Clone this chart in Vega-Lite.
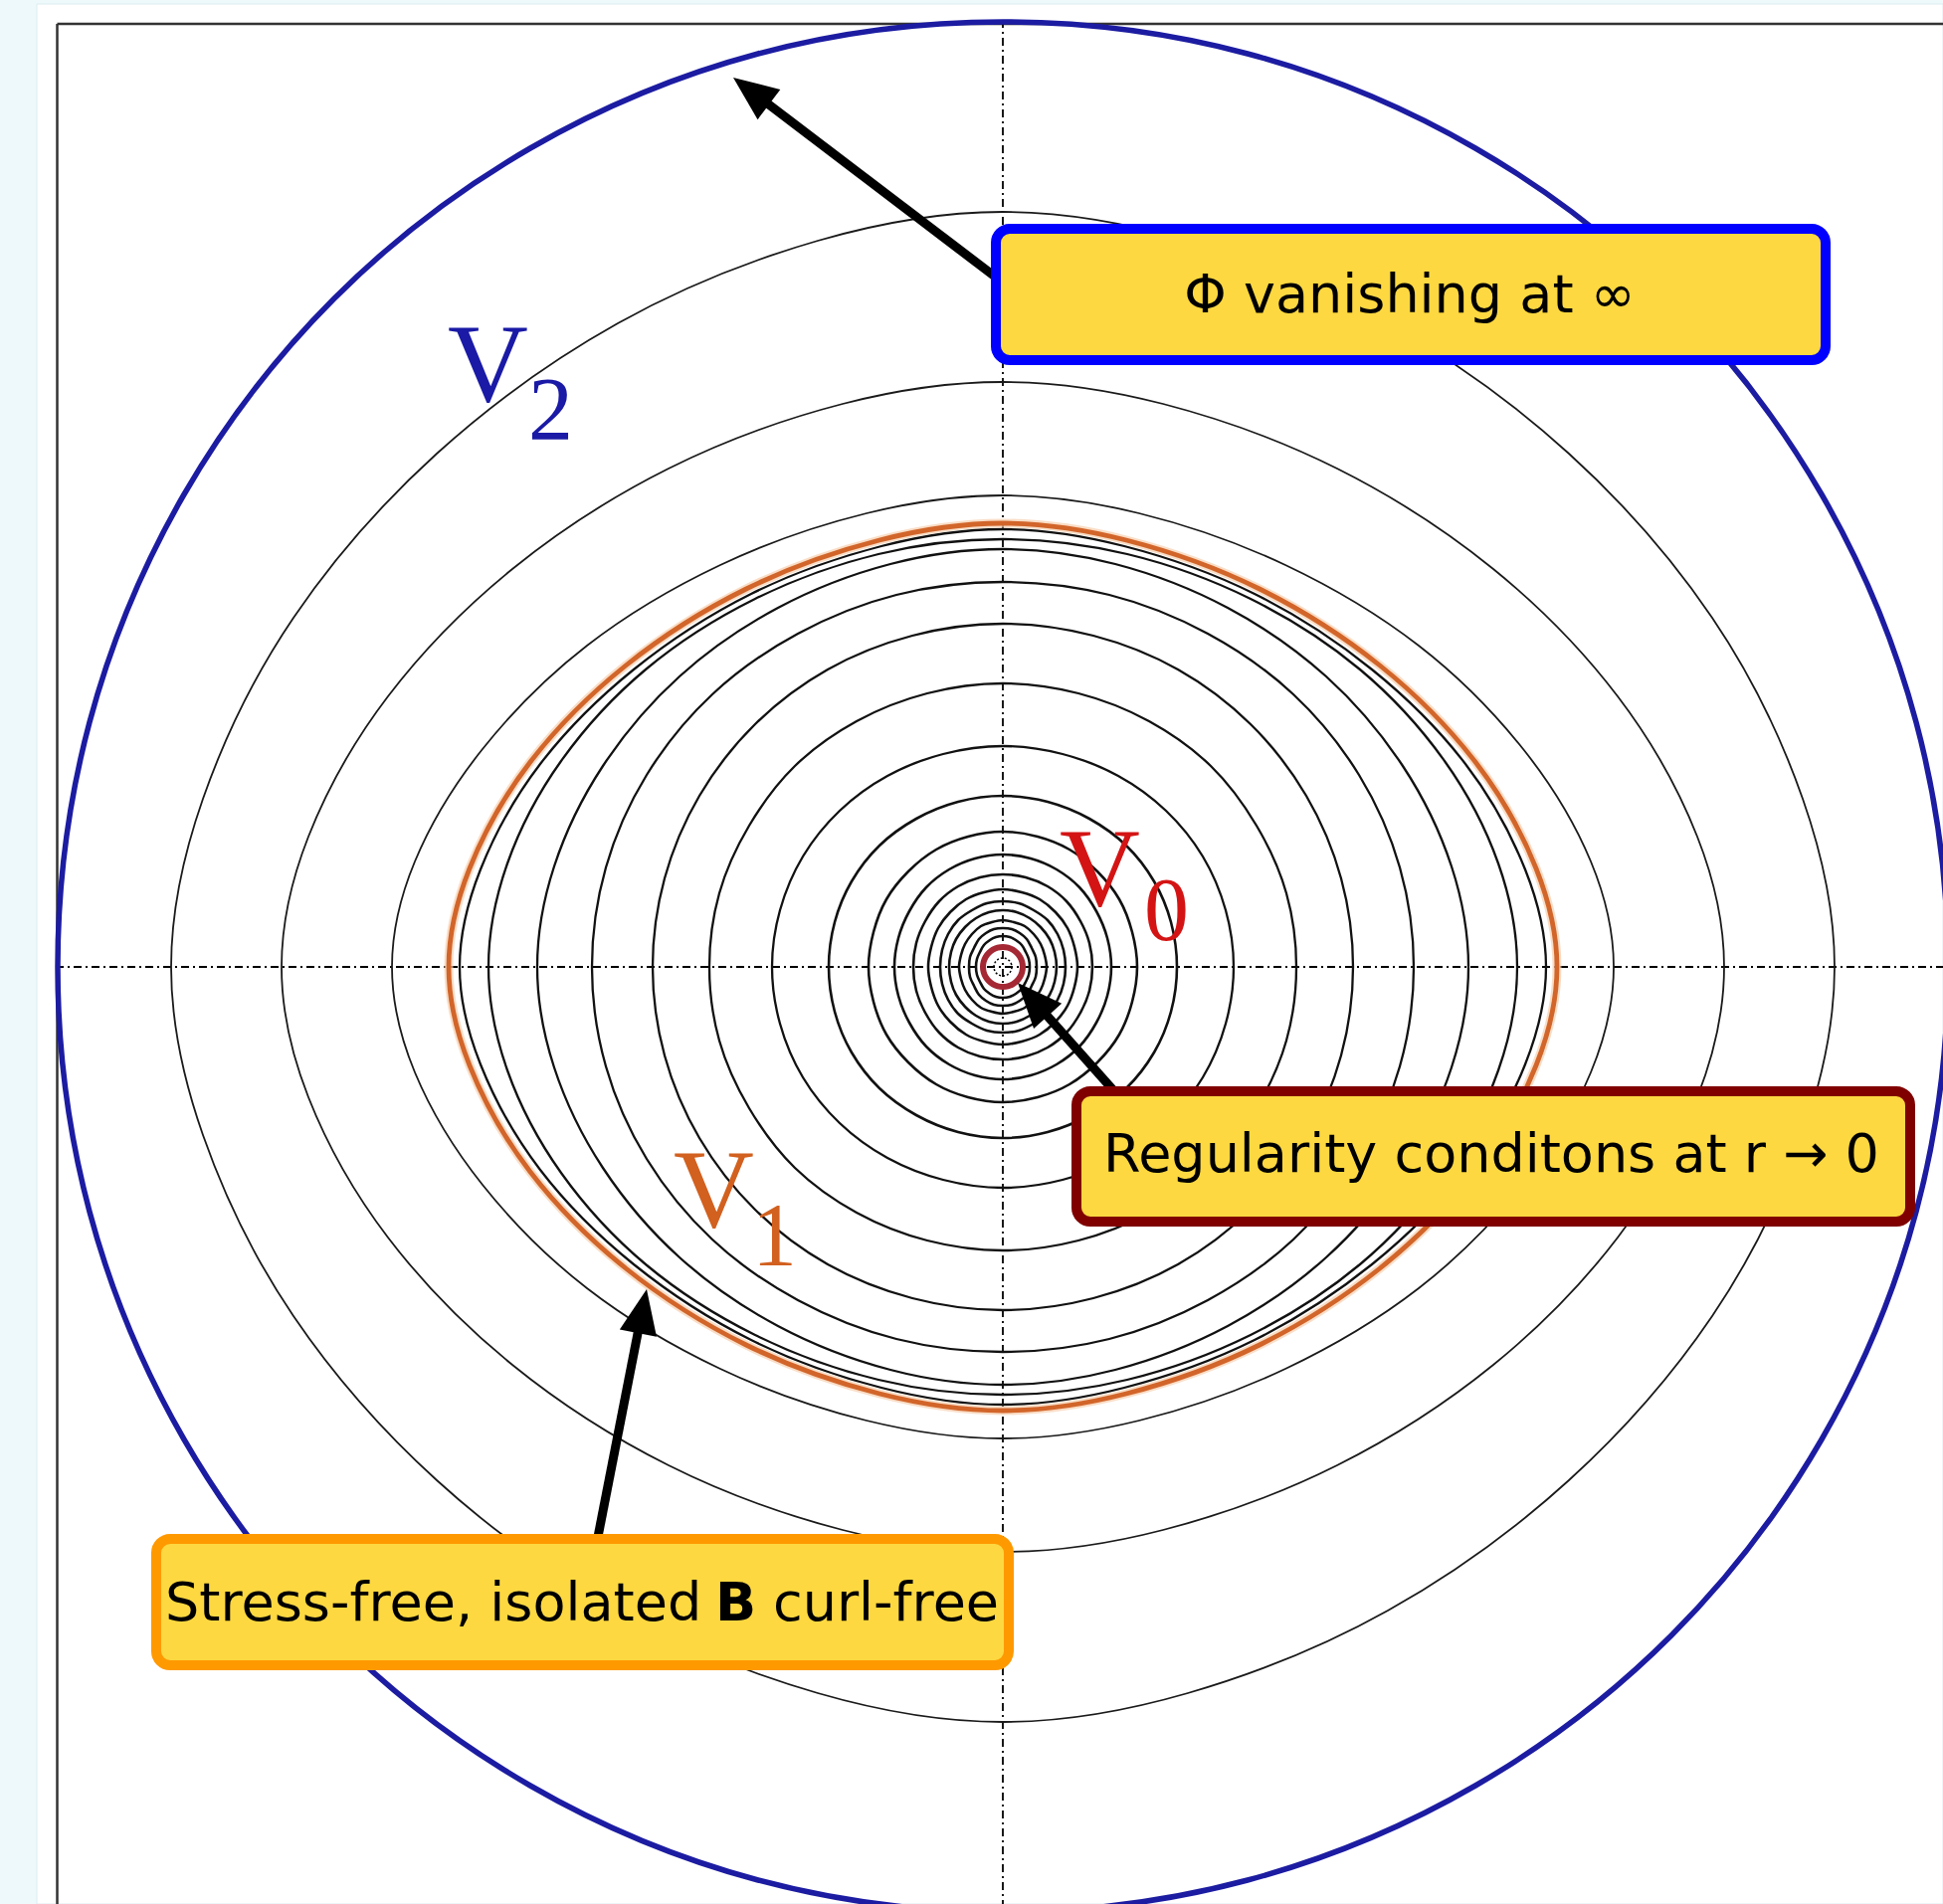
{
"$schema":"https://vega.github.io/schema/vega-lite/v6.json",
"width":1953,"height":1914,"autosize":{"type":"none"},"padding":0,
"background":"#eef9fc",
"config":{"view":{"stroke":null}},
"datasets":{
"panel":[{"x":-971,"x2":945,"y":968,"y2":-942}],
"frame":[{"x":-950.5,"y":948,"x2":-950.5,"y2":-942},{"x":-950.5,"y":948,"x2":945,"y2":948}],
"axes":[{"x":-952,"y":0,"x2":945,"y2":0},{"x":0,"y":952,"x2":0,"y2":-942}],
"pts":[
{"c":1,"i":0,"x":836,"y":0},{"c":1,"i":1,"x":804,"y":169},{"c":1,"i":2,"x":713,"y":351},{"c":1,"i":3,"x":569,"y":516},{"c":1,"i":4,"x":387,"y":647},{"c":1,"i":5,"x":186,"y":730},{"c":1,"i":6,"x":0,"y":759},{"c":1,"i":7,"x":-186,"y":730},{"c":1,"i":8,"x":-387,"y":647},{"c":1,"i":9,"x":-569,"y":516},{"c":1,"i":10,"x":-713,"y":351},{"c":1,"i":11,"x":-804,"y":169},{"c":1,"i":12,"x":-836,"y":0},{"c":1,"i":13,"x":-804,"y":-169},{"c":1,"i":14,"x":-713,"y":-351},{"c":1,"i":15,"x":-569,"y":-516},{"c":1,"i":16,"x":-387,"y":-647},{"c":1,"i":17,"x":-186,"y":-730},{"c":1,"i":18,"x":0,"y":-759},{"c":1,"i":19,"x":186,"y":-730},{"c":1,"i":20,"x":387,"y":-647},{"c":1,"i":21,"x":569,"y":-516},{"c":1,"i":22,"x":713,"y":-351},{"c":1,"i":23,"x":804,"y":-169},
{"c":2,"i":0,"x":725,"y":0},{"c":2,"i":1,"x":698,"y":131},{"c":2,"i":2,"x":618,"y":272},{"c":2,"i":3,"x":493,"y":400},{"c":2,"i":4,"x":336,"y":501},{"c":2,"i":5,"x":161,"y":566},{"c":2,"i":6,"x":0,"y":588},{"c":2,"i":7,"x":-161,"y":566},{"c":2,"i":8,"x":-336,"y":501},{"c":2,"i":9,"x":-493,"y":400},{"c":2,"i":10,"x":-618,"y":272},{"c":2,"i":11,"x":-698,"y":131},{"c":2,"i":12,"x":-725,"y":0},{"c":2,"i":13,"x":-698,"y":-131},{"c":2,"i":14,"x":-618,"y":-272},{"c":2,"i":15,"x":-493,"y":-400},{"c":2,"i":16,"x":-336,"y":-501},{"c":2,"i":17,"x":-161,"y":-566},{"c":2,"i":18,"x":0,"y":-588},{"c":2,"i":19,"x":161,"y":-566},{"c":2,"i":20,"x":336,"y":-501},{"c":2,"i":21,"x":493,"y":-400},{"c":2,"i":22,"x":618,"y":-272},{"c":2,"i":23,"x":698,"y":-131},
{"c":3,"i":0,"x":614,"y":0},{"c":3,"i":1,"x":591,"y":106},{"c":3,"i":2,"x":523,"y":219},{"c":3,"i":3,"x":418,"y":323},{"c":3,"i":4,"x":284,"y":404},{"c":3,"i":5,"x":137,"y":456},{"c":3,"i":6,"x":0,"y":474},{"c":3,"i":7,"x":-137,"y":456},{"c":3,"i":8,"x":-284,"y":404},{"c":3,"i":9,"x":-418,"y":323},{"c":3,"i":10,"x":-523,"y":219},{"c":3,"i":11,"x":-591,"y":106},{"c":3,"i":12,"x":-614,"y":0},{"c":3,"i":13,"x":-591,"y":-106},{"c":3,"i":14,"x":-523,"y":-219},{"c":3,"i":15,"x":-418,"y":-323},{"c":3,"i":16,"x":-284,"y":-404},{"c":3,"i":17,"x":-137,"y":-456},{"c":3,"i":18,"x":0,"y":-474},{"c":3,"i":19,"x":137,"y":-456},{"c":3,"i":20,"x":284,"y":-404},{"c":3,"i":21,"x":418,"y":-323},{"c":3,"i":22,"x":523,"y":-219},{"c":3,"i":23,"x":591,"y":-106},
{"c":50,"i":0,"x":557,"y":0},{"c":50,"i":1,"x":536,"y":99},{"c":50,"i":2,"x":475,"y":206},{"c":50,"i":3,"x":379,"y":303},{"c":50,"i":4,"x":258,"y":380},{"c":50,"i":5,"x":124,"y":429},{"c":50,"i":6,"x":0,"y":446},{"c":50,"i":7,"x":-124,"y":429},{"c":50,"i":8,"x":-258,"y":380},{"c":50,"i":9,"x":-379,"y":303},{"c":50,"i":10,"x":-475,"y":206},{"c":50,"i":11,"x":-536,"y":99},{"c":50,"i":12,"x":-557,"y":0},{"c":50,"i":13,"x":-536,"y":-99},{"c":50,"i":14,"x":-475,"y":-206},{"c":50,"i":15,"x":-379,"y":-303},{"c":50,"i":16,"x":-258,"y":-380},{"c":50,"i":17,"x":-124,"y":-429},{"c":50,"i":18,"x":0,"y":-446},{"c":50,"i":19,"x":124,"y":-429},{"c":50,"i":20,"x":258,"y":-380},{"c":50,"i":21,"x":379,"y":-303},{"c":50,"i":22,"x":475,"y":-206},{"c":50,"i":23,"x":536,"y":-99},
{"c":4,"i":0,"x":546,"y":0},{"c":4,"i":1,"x":525,"y":98},{"c":4,"i":2,"x":465,"y":204},{"c":4,"i":3,"x":371,"y":299},{"c":4,"i":4,"x":253,"y":375},{"c":4,"i":5,"x":122,"y":423},{"c":4,"i":6,"x":0,"y":440},{"c":4,"i":7,"x":-122,"y":423},{"c":4,"i":8,"x":-253,"y":375},{"c":4,"i":9,"x":-371,"y":299},{"c":4,"i":10,"x":-465,"y":204},{"c":4,"i":11,"x":-525,"y":98},{"c":4,"i":12,"x":-546,"y":0},{"c":4,"i":13,"x":-525,"y":-98},{"c":4,"i":14,"x":-465,"y":-204},{"c":4,"i":15,"x":-371,"y":-299},{"c":4,"i":16,"x":-253,"y":-375},{"c":4,"i":17,"x":-122,"y":-423},{"c":4,"i":18,"x":0,"y":-440},{"c":4,"i":19,"x":122,"y":-423},{"c":4,"i":20,"x":253,"y":-375},{"c":4,"i":21,"x":371,"y":-299},{"c":4,"i":22,"x":465,"y":-204},{"c":4,"i":23,"x":525,"y":-98},
{"c":5,"i":0,"x":517,"y":0},{"c":5,"i":1,"x":498,"y":104},{"c":5,"i":2,"x":444,"y":207},{"c":5,"i":3,"x":359,"y":299},{"c":5,"i":4,"x":249,"y":370},{"c":5,"i":5,"x":125,"y":415},{"c":5,"i":6,"x":0,"y":430},{"c":5,"i":7,"x":-125,"y":415},{"c":5,"i":8,"x":-249,"y":370},{"c":5,"i":9,"x":-359,"y":299},{"c":5,"i":10,"x":-444,"y":207},{"c":5,"i":11,"x":-498,"y":104},{"c":5,"i":12,"x":-517,"y":0},{"c":5,"i":13,"x":-498,"y":-104},{"c":5,"i":14,"x":-444,"y":-207},{"c":5,"i":15,"x":-359,"y":-299},{"c":5,"i":16,"x":-249,"y":-370},{"c":5,"i":17,"x":-125,"y":-415},{"c":5,"i":18,"x":0,"y":-430},{"c":5,"i":19,"x":125,"y":-415},{"c":5,"i":20,"x":249,"y":-370},{"c":5,"i":21,"x":359,"y":-299},{"c":5,"i":22,"x":444,"y":-207},{"c":5,"i":23,"x":498,"y":-104},
{"c":6,"i":0,"x":468,"y":0},{"c":6,"i":1,"x":451,"y":101},{"c":6,"i":2,"x":402,"y":202},{"c":6,"i":3,"x":325,"y":292},{"c":6,"i":4,"x":226,"y":361},{"c":6,"i":5,"x":113,"y":405},{"c":6,"i":6,"x":0,"y":420},{"c":6,"i":7,"x":-113,"y":405},{"c":6,"i":8,"x":-226,"y":361},{"c":6,"i":9,"x":-325,"y":292},{"c":6,"i":10,"x":-402,"y":202},{"c":6,"i":11,"x":-451,"y":101},{"c":6,"i":12,"x":-468,"y":0},{"c":6,"i":13,"x":-451,"y":-101},{"c":6,"i":14,"x":-402,"y":-202},{"c":6,"i":15,"x":-325,"y":-292},{"c":6,"i":16,"x":-226,"y":-361},{"c":6,"i":17,"x":-113,"y":-405},{"c":6,"i":18,"x":0,"y":-420},{"c":6,"i":19,"x":113,"y":-405},{"c":6,"i":20,"x":226,"y":-361},{"c":6,"i":21,"x":325,"y":-292},{"c":6,"i":22,"x":402,"y":-202},{"c":6,"i":23,"x":451,"y":-101},
{"c":7,"i":0,"x":413,"y":0},{"c":7,"i":1,"x":399,"y":100},{"c":7,"i":2,"x":358,"y":193},{"c":7,"i":3,"x":292,"y":274},{"c":7,"i":4,"x":206,"y":335},{"c":7,"i":5,"x":107,"y":374},{"c":7,"i":6,"x":0,"y":387},{"c":7,"i":7,"x":-107,"y":374},{"c":7,"i":8,"x":-206,"y":335},{"c":7,"i":9,"x":-292,"y":274},{"c":7,"i":10,"x":-358,"y":193},{"c":7,"i":11,"x":-399,"y":100},{"c":7,"i":12,"x":-413,"y":0},{"c":7,"i":13,"x":-399,"y":-100},{"c":7,"i":14,"x":-358,"y":-193},{"c":7,"i":15,"x":-292,"y":-274},{"c":7,"i":16,"x":-206,"y":-335},{"c":7,"i":17,"x":-107,"y":-374},{"c":7,"i":18,"x":0,"y":-387},{"c":7,"i":19,"x":107,"y":-374},{"c":7,"i":20,"x":206,"y":-335},{"c":7,"i":21,"x":292,"y":-274},{"c":7,"i":22,"x":358,"y":-193},{"c":7,"i":23,"x":399,"y":-100},
{"c":8,"i":0,"x":352,"y":0},{"c":8,"i":1,"x":340,"y":89},{"c":8,"i":2,"x":305,"y":172},{"c":8,"i":3,"x":249,"y":244},{"c":8,"i":4,"x":176,"y":299},{"c":8,"i":5,"x":91,"y":333},{"c":8,"i":6,"x":0,"y":345},{"c":8,"i":7,"x":-91,"y":333},{"c":8,"i":8,"x":-176,"y":299},{"c":8,"i":9,"x":-249,"y":244},{"c":8,"i":10,"x":-305,"y":172},{"c":8,"i":11,"x":-340,"y":89},{"c":8,"i":12,"x":-352,"y":0},{"c":8,"i":13,"x":-340,"y":-89},{"c":8,"i":14,"x":-305,"y":-172},{"c":8,"i":15,"x":-249,"y":-244},{"c":8,"i":16,"x":-176,"y":-299},{"c":8,"i":17,"x":-91,"y":-333},{"c":8,"i":18,"x":0,"y":-345},{"c":8,"i":19,"x":91,"y":-333},{"c":8,"i":20,"x":176,"y":-299},{"c":8,"i":21,"x":249,"y":-244},{"c":8,"i":22,"x":305,"y":-172},{"c":8,"i":23,"x":340,"y":-89},
{"c":9,"i":0,"x":295,"y":0},{"c":9,"i":1,"x":285,"y":74},{"c":9,"i":2,"x":255,"y":142},{"c":9,"i":3,"x":209,"y":202},{"c":9,"i":4,"x":147,"y":247},{"c":9,"i":5,"x":76,"y":275},{"c":9,"i":6,"x":0,"y":285},{"c":9,"i":7,"x":-76,"y":275},{"c":9,"i":8,"x":-147,"y":247},{"c":9,"i":9,"x":-209,"y":202},{"c":9,"i":10,"x":-255,"y":142},{"c":9,"i":11,"x":-285,"y":74},{"c":9,"i":12,"x":-295,"y":0},{"c":9,"i":13,"x":-285,"y":-74},{"c":9,"i":14,"x":-255,"y":-142},{"c":9,"i":15,"x":-209,"y":-202},{"c":9,"i":16,"x":-147,"y":-247},{"c":9,"i":17,"x":-76,"y":-275},{"c":9,"i":18,"x":0,"y":-285},{"c":9,"i":19,"x":76,"y":-275},{"c":9,"i":20,"x":147,"y":-247},{"c":9,"i":21,"x":209,"y":-202},{"c":9,"i":22,"x":255,"y":-142},{"c":9,"i":23,"x":285,"y":-74},
{"c":10,"i":0,"x":232,"y":0},{"c":10,"i":1,"x":224,"y":57},{"c":10,"i":2,"x":201,"y":111},{"c":10,"i":3,"x":164,"y":157},{"c":10,"i":4,"x":116,"y":192},{"c":10,"i":5,"x":60,"y":214},{"c":10,"i":6,"x":0,"y":222},{"c":10,"i":7,"x":-60,"y":214},{"c":10,"i":8,"x":-116,"y":192},{"c":10,"i":9,"x":-164,"y":157},{"c":10,"i":10,"x":-201,"y":111},{"c":10,"i":11,"x":-224,"y":57},{"c":10,"i":12,"x":-232,"y":0},{"c":10,"i":13,"x":-224,"y":-57},{"c":10,"i":14,"x":-201,"y":-111},{"c":10,"i":15,"x":-164,"y":-157},{"c":10,"i":16,"x":-116,"y":-192},{"c":10,"i":17,"x":-60,"y":-214},{"c":10,"i":18,"x":0,"y":-222},{"c":10,"i":19,"x":60,"y":-214},{"c":10,"i":20,"x":116,"y":-192},{"c":10,"i":21,"x":164,"y":-157},{"c":10,"i":22,"x":201,"y":-111},{"c":10,"i":23,"x":224,"y":-57},
{"c":11,"i":0,"x":175,"y":0},{"c":11,"i":1,"x":169,"y":45},{"c":11,"i":2,"x":152,"y":86},{"c":11,"i":3,"x":124,"y":122},{"c":11,"i":4,"x":87,"y":149},{"c":11,"i":5,"x":45,"y":166},{"c":11,"i":6,"x":0,"y":172},{"c":11,"i":7,"x":-45,"y":166},{"c":11,"i":8,"x":-87,"y":149},{"c":11,"i":9,"x":-124,"y":122},{"c":11,"i":10,"x":-152,"y":86},{"c":11,"i":11,"x":-169,"y":45},{"c":11,"i":12,"x":-175,"y":0},{"c":11,"i":13,"x":-169,"y":-45},{"c":11,"i":14,"x":-152,"y":-86},{"c":11,"i":15,"x":-124,"y":-122},{"c":11,"i":16,"x":-87,"y":-149},{"c":11,"i":17,"x":-45,"y":-166},{"c":11,"i":18,"x":0,"y":-172},{"c":11,"i":19,"x":45,"y":-166},{"c":11,"i":20,"x":87,"y":-149},{"c":11,"i":21,"x":124,"y":-122},{"c":11,"i":22,"x":152,"y":-86},{"c":11,"i":23,"x":169,"y":-45},
{"c":12,"i":0,"x":135,"y":0},{"c":12,"i":1,"x":130,"y":35},{"c":12,"i":2,"x":117,"y":68},{"c":12,"i":3,"x":95,"y":96},{"c":12,"i":4,"x":67,"y":118},{"c":12,"i":5,"x":35,"y":131},{"c":12,"i":6,"x":0,"y":136},{"c":12,"i":7,"x":-35,"y":131},{"c":12,"i":8,"x":-67,"y":118},{"c":12,"i":9,"x":-95,"y":96},{"c":12,"i":10,"x":-117,"y":68},{"c":12,"i":11,"x":-130,"y":35},{"c":12,"i":12,"x":-135,"y":0},{"c":12,"i":13,"x":-130,"y":-35},{"c":12,"i":14,"x":-117,"y":-68},{"c":12,"i":15,"x":-95,"y":-96},{"c":12,"i":16,"x":-67,"y":-118},{"c":12,"i":17,"x":-35,"y":-131},{"c":12,"i":18,"x":0,"y":-136},{"c":12,"i":19,"x":35,"y":-131},{"c":12,"i":20,"x":67,"y":-118},{"c":12,"i":21,"x":95,"y":-96},{"c":12,"i":22,"x":117,"y":-68},{"c":12,"i":23,"x":130,"y":-35},
{"c":13,"i":0,"x":109,"y":0},{"c":13,"i":1,"x":105,"y":29},{"c":13,"i":2,"x":94,"y":56},{"c":13,"i":3,"x":77,"y":80},{"c":13,"i":4,"x":54,"y":98},{"c":13,"i":5,"x":28,"y":109},{"c":13,"i":6,"x":0,"y":113},{"c":13,"i":7,"x":-28,"y":109},{"c":13,"i":8,"x":-54,"y":98},{"c":13,"i":9,"x":-77,"y":80},{"c":13,"i":10,"x":-94,"y":56},{"c":13,"i":11,"x":-105,"y":29},{"c":13,"i":12,"x":-109,"y":0},{"c":13,"i":13,"x":-105,"y":-29},{"c":13,"i":14,"x":-94,"y":-56},{"c":13,"i":15,"x":-77,"y":-80},{"c":13,"i":16,"x":-54,"y":-98},{"c":13,"i":17,"x":-28,"y":-109},{"c":13,"i":18,"x":0,"y":-113},{"c":13,"i":19,"x":28,"y":-109},{"c":13,"i":20,"x":54,"y":-98},{"c":13,"i":21,"x":77,"y":-80},{"c":13,"i":22,"x":94,"y":-56},{"c":13,"i":23,"x":105,"y":-29},
{"c":14,"i":0,"x":90,"y":0},{"c":14,"i":1,"x":87,"y":24},{"c":14,"i":2,"x":78,"y":46},{"c":14,"i":3,"x":64,"y":66},{"c":14,"i":4,"x":45,"y":81},{"c":14,"i":5,"x":23,"y":90},{"c":14,"i":6,"x":0,"y":93},{"c":14,"i":7,"x":-23,"y":90},{"c":14,"i":8,"x":-45,"y":81},{"c":14,"i":9,"x":-64,"y":66},{"c":14,"i":10,"x":-78,"y":46},{"c":14,"i":11,"x":-87,"y":24},{"c":14,"i":12,"x":-90,"y":0},{"c":14,"i":13,"x":-87,"y":-24},{"c":14,"i":14,"x":-78,"y":-46},{"c":14,"i":15,"x":-64,"y":-66},{"c":14,"i":16,"x":-45,"y":-81},{"c":14,"i":17,"x":-23,"y":-90},{"c":14,"i":18,"x":0,"y":-93},{"c":14,"i":19,"x":23,"y":-90},{"c":14,"i":20,"x":45,"y":-81},{"c":14,"i":21,"x":64,"y":-66},{"c":14,"i":22,"x":78,"y":-46},{"c":14,"i":23,"x":87,"y":-24},
{"c":15,"i":0,"x":75,"y":0},{"c":15,"i":1,"x":72,"y":20},{"c":15,"i":2,"x":65,"y":39},{"c":15,"i":3,"x":53,"y":55},{"c":15,"i":4,"x":37,"y":68},{"c":15,"i":5,"x":19,"y":75},{"c":15,"i":6,"x":0,"y":78},{"c":15,"i":7,"x":-19,"y":75},{"c":15,"i":8,"x":-37,"y":68},{"c":15,"i":9,"x":-53,"y":55},{"c":15,"i":10,"x":-65,"y":39},{"c":15,"i":11,"x":-72,"y":20},{"c":15,"i":12,"x":-75,"y":0},{"c":15,"i":13,"x":-72,"y":-20},{"c":15,"i":14,"x":-65,"y":-39},{"c":15,"i":15,"x":-53,"y":-55},{"c":15,"i":16,"x":-37,"y":-68},{"c":15,"i":17,"x":-19,"y":-75},{"c":15,"i":18,"x":0,"y":-78},{"c":15,"i":19,"x":19,"y":-75},{"c":15,"i":20,"x":37,"y":-68},{"c":15,"i":21,"x":53,"y":-55},{"c":15,"i":22,"x":65,"y":-39},{"c":15,"i":23,"x":72,"y":-20},
{"c":16,"i":0,"x":63,"y":0},{"c":16,"i":1,"x":61,"y":17},{"c":16,"i":2,"x":55,"y":33},{"c":16,"i":3,"x":45,"y":47},{"c":16,"i":4,"x":31,"y":57},{"c":16,"i":5,"x":16,"y":64},{"c":16,"i":6,"x":0,"y":66},{"c":16,"i":7,"x":-16,"y":64},{"c":16,"i":8,"x":-31,"y":57},{"c":16,"i":9,"x":-45,"y":47},{"c":16,"i":10,"x":-55,"y":33},{"c":16,"i":11,"x":-61,"y":17},{"c":16,"i":12,"x":-63,"y":0},{"c":16,"i":13,"x":-61,"y":-17},{"c":16,"i":14,"x":-55,"y":-33},{"c":16,"i":15,"x":-45,"y":-47},{"c":16,"i":16,"x":-31,"y":-57},{"c":16,"i":17,"x":-16,"y":-64},{"c":16,"i":18,"x":0,"y":-66},{"c":16,"i":19,"x":16,"y":-64},{"c":16,"i":20,"x":31,"y":-57},{"c":16,"i":21,"x":45,"y":-47},{"c":16,"i":22,"x":55,"y":-33},{"c":16,"i":23,"x":61,"y":-17},
{"c":17,"i":0,"x":54,"y":0},{"c":17,"i":1,"x":52,"y":15},{"c":17,"i":2,"x":47,"y":28},{"c":17,"i":3,"x":38,"y":40},{"c":17,"i":4,"x":27,"y":49},{"c":17,"i":5,"x":14,"y":55},{"c":17,"i":6,"x":0,"y":57},{"c":17,"i":7,"x":-14,"y":55},{"c":17,"i":8,"x":-27,"y":49},{"c":17,"i":9,"x":-38,"y":40},{"c":17,"i":10,"x":-47,"y":28},{"c":17,"i":11,"x":-52,"y":15},{"c":17,"i":12,"x":-54,"y":0},{"c":17,"i":13,"x":-52,"y":-15},{"c":17,"i":14,"x":-47,"y":-28},{"c":17,"i":15,"x":-38,"y":-40},{"c":17,"i":16,"x":-27,"y":-49},{"c":17,"i":17,"x":-14,"y":-55},{"c":17,"i":18,"x":0,"y":-57},{"c":17,"i":19,"x":14,"y":-55},{"c":17,"i":20,"x":27,"y":-49},{"c":17,"i":21,"x":38,"y":-40},{"c":17,"i":22,"x":47,"y":-28},{"c":17,"i":23,"x":52,"y":-15},
{"c":18,"i":0,"x":44,"y":0},{"c":18,"i":1,"x":42,"y":12},{"c":18,"i":2,"x":38,"y":23},{"c":18,"i":3,"x":31,"y":33},{"c":18,"i":4,"x":22,"y":41},{"c":18,"i":5,"x":11,"y":45},{"c":18,"i":6,"x":0,"y":47},{"c":18,"i":7,"x":-11,"y":45},{"c":18,"i":8,"x":-22,"y":41},{"c":18,"i":9,"x":-31,"y":33},{"c":18,"i":10,"x":-38,"y":23},{"c":18,"i":11,"x":-42,"y":12},{"c":18,"i":12,"x":-44,"y":0},{"c":18,"i":13,"x":-42,"y":-12},{"c":18,"i":14,"x":-38,"y":-23},{"c":18,"i":15,"x":-31,"y":-33},{"c":18,"i":16,"x":-22,"y":-41},{"c":18,"i":17,"x":-11,"y":-45},{"c":18,"i":18,"x":0,"y":-47},{"c":18,"i":19,"x":11,"y":-45},{"c":18,"i":20,"x":22,"y":-41},{"c":18,"i":21,"x":31,"y":-33},{"c":18,"i":22,"x":38,"y":-23},{"c":18,"i":23,"x":42,"y":-12},
{"c":19,"i":0,"x":34,"y":0},{"c":19,"i":1,"x":33,"y":10},{"c":19,"i":2,"x":29,"y":19},{"c":19,"i":3,"x":24,"y":28},{"c":19,"i":4,"x":17,"y":34},{"c":19,"i":5,"x":9,"y":38},{"c":19,"i":6,"x":0,"y":39},{"c":19,"i":7,"x":-9,"y":38},{"c":19,"i":8,"x":-17,"y":34},{"c":19,"i":9,"x":-24,"y":28},{"c":19,"i":10,"x":-29,"y":19},{"c":19,"i":11,"x":-33,"y":10},{"c":19,"i":12,"x":-34,"y":0},{"c":19,"i":13,"x":-33,"y":-10},{"c":19,"i":14,"x":-29,"y":-19},{"c":19,"i":15,"x":-24,"y":-28},{"c":19,"i":16,"x":-17,"y":-34},{"c":19,"i":17,"x":-9,"y":-38},{"c":19,"i":18,"x":0,"y":-39},{"c":19,"i":19,"x":9,"y":-38},{"c":19,"i":20,"x":17,"y":-34},{"c":19,"i":21,"x":24,"y":-28},{"c":19,"i":22,"x":29,"y":-19},{"c":19,"i":23,"x":33,"y":-10},
{"c":20,"i":0,"x":27,"y":0},{"c":20,"i":1,"x":26,"y":8},{"c":20,"i":2,"x":23,"y":15},{"c":20,"i":3,"x":19,"y":22},{"c":20,"i":4,"x":13,"y":27},{"c":20,"i":5,"x":7,"y":30},{"c":20,"i":6,"x":0,"y":31},{"c":20,"i":7,"x":-7,"y":30},{"c":20,"i":8,"x":-13,"y":27},{"c":20,"i":9,"x":-19,"y":22},{"c":20,"i":10,"x":-23,"y":15},{"c":20,"i":11,"x":-26,"y":8},{"c":20,"i":12,"x":-27,"y":0},{"c":20,"i":13,"x":-26,"y":-8},{"c":20,"i":14,"x":-23,"y":-15},{"c":20,"i":15,"x":-19,"y":-22},{"c":20,"i":16,"x":-13,"y":-27},{"c":20,"i":17,"x":-7,"y":-30},{"c":20,"i":18,"x":0,"y":-31},{"c":20,"i":19,"x":7,"y":-30},{"c":20,"i":20,"x":13,"y":-27},{"c":20,"i":21,"x":19,"y":-22},{"c":20,"i":22,"x":23,"y":-15},{"c":20,"i":23,"x":26,"y":-8},
{"c":100,"i":0,"x":950,"y":0},{"c":100,"i":1,"x":918,"y":246},{"c":100,"i":2,"x":823,"y":475},{"c":100,"i":3,"x":672,"y":672},{"c":100,"i":4,"x":475,"y":823},{"c":100,"i":5,"x":246,"y":918},{"c":100,"i":6,"x":0,"y":950},{"c":100,"i":7,"x":-246,"y":918},{"c":100,"i":8,"x":-475,"y":823},{"c":100,"i":9,"x":-672,"y":672},{"c":100,"i":10,"x":-823,"y":475},{"c":100,"i":11,"x":-918,"y":246},{"c":100,"i":12,"x":-950,"y":0},{"c":100,"i":13,"x":-918,"y":-246},{"c":100,"i":14,"x":-823,"y":-475},{"c":100,"i":15,"x":-672,"y":-672},{"c":100,"i":16,"x":-475,"y":-823},{"c":100,"i":17,"x":-246,"y":-918},{"c":100,"i":18,"x":0,"y":-950},{"c":100,"i":19,"x":246,"y":-918},{"c":100,"i":20,"x":475,"y":-823},{"c":100,"i":21,"x":672,"y":-672},{"c":100,"i":22,"x":823,"y":-475},{"c":100,"i":23,"x":918,"y":-246},
{"c":200,"i":0,"x":20,"y":0},{"c":200,"i":1,"x":19.3,"y":5.2},{"c":200,"i":2,"x":17.3,"y":10},{"c":200,"i":3,"x":14.1,"y":14.1},{"c":200,"i":4,"x":10,"y":17.3},{"c":200,"i":5,"x":5.2,"y":19.3},{"c":200,"i":6,"x":0,"y":20},{"c":200,"i":7,"x":-5.2,"y":19.3},{"c":200,"i":8,"x":-10,"y":17.3},{"c":200,"i":9,"x":-14.1,"y":14.1},{"c":200,"i":10,"x":-17.3,"y":10},{"c":200,"i":11,"x":-19.3,"y":5.2},{"c":200,"i":12,"x":-20,"y":0},{"c":200,"i":13,"x":-19.3,"y":-5.2},{"c":200,"i":14,"x":-17.3,"y":-10},{"c":200,"i":15,"x":-14.1,"y":-14.1},{"c":200,"i":16,"x":-10,"y":-17.3},{"c":200,"i":17,"x":-5.2,"y":-19.3},{"c":200,"i":18,"x":0,"y":-20},{"c":200,"i":19,"x":5.2,"y":-19.3},{"c":200,"i":20,"x":10,"y":-17.3},{"c":200,"i":21,"x":14.1,"y":-14.1},{"c":200,"i":22,"x":17.3,"y":-10},{"c":200,"i":23,"x":19.3,"y":-5.2},
{"c":201,"i":0,"x":9,"y":0},{"c":201,"i":1,"x":8.7,"y":2.3},{"c":201,"i":2,"x":7.8,"y":4.5},{"c":201,"i":3,"x":6.4,"y":6.4},{"c":201,"i":4,"x":4.5,"y":7.8},{"c":201,"i":5,"x":2.3,"y":8.7},{"c":201,"i":6,"x":0,"y":9},{"c":201,"i":7,"x":-2.3,"y":8.7},{"c":201,"i":8,"x":-4.5,"y":7.8},{"c":201,"i":9,"x":-6.4,"y":6.4},{"c":201,"i":10,"x":-7.8,"y":4.5},{"c":201,"i":11,"x":-8.7,"y":2.3},{"c":201,"i":12,"x":-9,"y":0},{"c":201,"i":13,"x":-8.7,"y":-2.3},{"c":201,"i":14,"x":-7.8,"y":-4.5},{"c":201,"i":15,"x":-6.4,"y":-6.4},{"c":201,"i":16,"x":-4.5,"y":-7.8},{"c":201,"i":17,"x":-2.3,"y":-8.7},{"c":201,"i":18,"x":0,"y":-9},{"c":201,"i":19,"x":2.3,"y":-8.7},{"c":201,"i":20,"x":4.5,"y":-7.8},{"c":201,"i":21,"x":6.4,"y":-6.4},{"c":201,"i":22,"x":7.8,"y":-4.5},{"c":201,"i":23,"x":8.7,"y":-2.3}
],
"arrows":[{"id":1,"x":-4,"y":691,"x2":-251,"y2":879},{"id":2,"x":112,"y":-125,"x2":32,"y2":-35},{"id":3,"x":-408,"y":-578,"x2":-363,"y2":-348}],
"heads":[{"id":1,"x":-271,"y":894},{"id":2,"x":15,"y":-16},{"id":3,"x":-358,"y":-324}],
"boxes":[{"id":"phi","x":-7,"x2":827,"y":742,"y2":610},{"id":"reg","x":74,"x2":912,"y":-125,"y2":-256},{"id":"stress","x":-851,"x2":6,"y":-575,"y2":-702}],
"ctext":[{"t":"Φ vanishing at ∞","x":409,"y":658},{"t":"Regularity conditons at r → 0","x":491,"y":-206}],
"ltext":[{"t":"Stress-free, isolated","x":-842,"y":-657},{"t":"curl-free","x":-231,"y":-657}],
"btext":[{"t":"B","x":-289,"y":-657}],
"vl":[{"k":"v2","t":"V","x":-558,"y":569},{"k":"v0","t":"V","x":57,"y":62},{"k":"v1","t":"V","x":-331,"y":-261}],
"vs":[{"k":"v2","t":"2","x":-477,"y":530},{"k":"v0","t":"0","x":142,"y":27},{"k":"v1","t":"1","x":-252,"y":-300}]
},
"encoding":{
"x":{"field":"x","type":"quantitative","scale":{"domain":[-1008,945],"nice":false,"zero":false},"axis":null},
"y":{"field":"y","type":"quantitative","scale":{"domain":[-942,972],"nice":false,"zero":false},"axis":null}
},
"layer":[
{"data":{"name":"panel"},"mark":{"type":"rect","fill":"#ffffff","stroke":"#dcebf0","strokeWidth":1},"encoding":{"x2":{"field":"x2"},"y2":{"field":"y2"}}},
{"data":{"name":"frame"},"mark":{"type":"rule","stroke":"#333333","strokeWidth":2.5},"encoding":{"x2":{"field":"x2"},"y2":{"field":"y2"}}},
{"data":{"name":"axes"},"mark":{"type":"rule","stroke":"#000000","strokeWidth":1.8,"strokeDash":[8,4,2,4]},"encoding":{"x2":{"field":"x2"},"y2":{"field":"y2"}}},
{"data":{"name":"pts"},"transform":[{"filter":"datum.c >= 1 && datum.c <= 3"}],"mark":{"type":"line","interpolate":"cardinal-closed","stroke":"#1a1a1a","strokeWidth":1.8},"encoding":{"detail":{"field":"c","type":"nominal"},"order":{"field":"i","type":"quantitative"}}},
{"data":{"name":"pts"},"transform":[{"filter":"datum.c >= 4 && datum.c <= 10"}],"mark":{"type":"line","interpolate":"cardinal-closed","stroke":"#111111","strokeWidth":2.3},"encoding":{"detail":{"field":"c","type":"nominal"},"order":{"field":"i","type":"quantitative"}}},
{"data":{"name":"pts"},"transform":[{"filter":"datum.c >= 11 && datum.c <= 20"}],"mark":{"type":"line","interpolate":"cardinal-closed","stroke":"#111111","strokeWidth":2.6},"encoding":{"detail":{"field":"c","type":"nominal"},"order":{"field":"i","type":"quantitative"}}},
{"data":{"name":"pts"},"transform":[{"filter":"datum.c == 50"}],"mark":{"type":"line","interpolate":"cardinal-closed","stroke":"#f6cfae","strokeWidth":9,"opacity":0.7},"encoding":{"detail":{"field":"c","type":"nominal"},"order":{"field":"i","type":"quantitative"}}},
{"data":{"name":"pts"},"transform":[{"filter":"datum.c == 50"}],"mark":{"type":"line","interpolate":"cardinal-closed","stroke":"#d2652a","strokeWidth":4.8},"encoding":{"detail":{"field":"c","type":"nominal"},"order":{"field":"i","type":"quantitative"}}},
{"data":{"name":"pts"},"transform":[{"filter":"datum.c == 100"}],"mark":{"type":"line","interpolate":"cardinal-closed","stroke":"#1c1ca2","strokeWidth":5.5},"encoding":{"detail":{"field":"c","type":"nominal"},"order":{"field":"i","type":"quantitative"}}},
{"data":{"name":"pts"},"transform":[{"filter":"datum.c == 200"}],"mark":{"type":"line","interpolate":"cardinal-closed","stroke":"#a52835","strokeWidth":6},"encoding":{"detail":{"field":"c","type":"nominal"},"order":{"field":"i","type":"quantitative"}}},
{"data":{"name":"pts"},"transform":[{"filter":"datum.c == 201"}],"mark":{"type":"line","interpolate":"cardinal-closed","stroke":"#000000","strokeWidth":1.5,"strokeDash":[2,2]},"encoding":{"detail":{"field":"c","type":"nominal"},"order":{"field":"i","type":"quantitative"}}},
{"data":{"name":"vl"},"mark":{"type":"text","font":"Liberation Serif","fontSize":112,"align":"left","baseline":"alphabetic"},"encoding":{"text":{"field":"t"},"color":{"field":"k","type":"nominal","scale":{"domain":["v0","v1","v2"],"range":["#d41414","#d2601f","#1a1aa6"]},"legend":null}}},
{"data":{"name":"vs"},"mark":{"type":"text","font":"Liberation Serif","fontSize":90,"align":"left","baseline":"alphabetic"},"encoding":{"text":{"field":"t"},"color":{"field":"k","type":"nominal","scale":{"domain":["v0","v1","v2"],"range":["#d41414","#d2601f","#1a1aa6"]},"legend":null}}},
{"data":{"name":"arrows"},"mark":{"type":"rule","stroke":"#000000","strokeWidth":9,"strokeCap":"butt"},"encoding":{"x2":{"field":"x2"},"y2":{"field":"y2"}}},
{"data":{"name":"heads"},"transform":[{"filter":"datum.id == 1"}],"mark":{"type":"point","shape":"M0,0L0.42,1L-0.42,1Z","filled":true,"fill":"#000000","strokeWidth":0,"opacity":1,"size":8100,"angle":307},"encoding":{}},
{"data":{"name":"heads"},"transform":[{"filter":"datum.id == 2"}],"mark":{"type":"point","shape":"M0,0L0.42,1L-0.42,1Z","filled":true,"fill":"#000000","strokeWidth":0,"opacity":1,"size":8100,"angle":318},"encoding":{}},
{"data":{"name":"heads"},"transform":[{"filter":"datum.id == 3"}],"mark":{"type":"point","shape":"M0,0L0.42,1L-0.42,1Z","filled":true,"fill":"#000000","strokeWidth":0,"opacity":1,"size":8100,"angle":11},"encoding":{}},
{"data":{"name":"boxes"},"mark":{"type":"rect","fill":"#fdd841","strokeWidth":10,"cornerRadius":14},"encoding":{"x2":{"field":"x2"},"y2":{"field":"y2"},"stroke":{"field":"id","type":"nominal","scale":{"domain":["phi","reg","stress"],"range":["#0000ff","#800000","#ff9900"]},"legend":null}}},
{"data":{"name":"ctext"},"mark":{"type":"text","font":"DejaVu Sans","fontSize":54,"align":"center","baseline":"alphabetic","fill":"#000000"},"encoding":{"text":{"field":"t"}}},
{"data":{"name":"ltext"},"mark":{"type":"text","font":"DejaVu Sans","fontSize":54,"align":"left","baseline":"alphabetic","fill":"#000000"},"encoding":{"text":{"field":"t"}}},
{"data":{"name":"btext"},"mark":{"type":"text","font":"DejaVu Sans","fontSize":54,"fontWeight":"bold","align":"left","baseline":"alphabetic","fill":"#000000"},"encoding":{"text":{"field":"t"}}}
]
}
